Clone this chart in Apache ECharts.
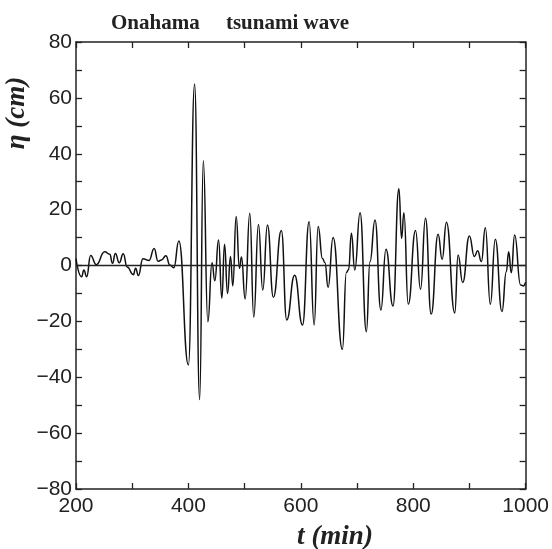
<!DOCTYPE html>
<html>
<head>
<meta charset="utf-8">
<script src="https://cdn.jsdelivr.net/npm/echarts@6/dist/echarts.min.js"></script>
<style>
  html, body { margin: 0; padding: 0; background: #fff; }
  #main { width: 552px; height: 549px; }
</style>
</head>
<body>
<div id="main"></div>
<script>
"use strict";
// time (min) of each turning point of the record
var times = [
    200, 210, 214, 219, 226, 236, 251, 260, 265, 270, 277, 284, 291, 302, 306, 311,
    319, 330, 339, 346, 352, 360, 367, 374, 383, 400, 411, 420, 426.5, 434.6, 442, 447,
    453.6, 459.5, 464.3, 469.6, 474.9, 479, 485, 490.8, 494.4, 500.9, 509.2, 516.3, 524.6, 532.3,
    540.6, 551.2, 565.4, 574.9, 589, 603, 614.8, 623.7, 630.8, 638.5, 643, 648.5, 657.4, 674,
    681, 685, 690, 696, 705.4, 716.7, 723, 732, 742.5, 751.5, 764, 774.5, 779.3, 783.4,
    791.1, 804.1, 813, 821.8, 831.9, 844.3, 851.4, 859.1, 873.9, 879.8, 888, 899.9, 908.8,
    914.7, 921.2, 928.3, 937.2, 946, 957.9, 965.6, 969.8, 974.5, 980.4, 991, 996, 1000
];
// surface elevation eta (cm) at those times
var eta = [
    2.5, -4, -1.6, -4, 3.6, 0.3, 4.9, 4.0, 0.8, 4.3, 1.0, 4.2, -0.5, -3.3, -1.0, -3.6,
    2.4, 1.8, 6.1, 1.5, 2.0, 3.5, 0.2, -0.8, 8.8, -35.6, 65, -48, 37.5, -20.1, 1.0, -5.5,
    9.1, -11.7, 7.6, -10, 3.2, -7.3, 17.5, -1.0, 3.0, -12.0, 18.7, -18.5, 14.7, -8.8,
    14.5, -11.4, 12.5, -19.5, -3.5, -21.3, 15.7, -21.3, 14, 2.5, 1.0, -7.8, 10, -30,
    -2.5, -1.5, 11.5, -1.6, 18.9, -23.7, 1.3, 16.3, -15.9, 5.8, -14.5, 27.5, 9.7, 18.9,
    -13.9, 12.5, -8.5, 16.9, -17.4, 11.2, 2.2, 15.5, -17, 3.8, -6.1, 10.6, 3.2,
    5.3, 1.4, 13.5, -13.9, 9.4, -16.5, -2.2, 4.9, -2.6, 10.9, -7, -7.3, -6
];
var xTicks = [200, 400, 600, 800, 1000];
var yTicks = [-80, -60, -40, -20, 0, 20, 40, 60, 80];

var chart = echarts.init(document.getElementById('main'));
var frame = { show: true, onZero: false, lineStyle: { color: '#222', width: 1.5 } };
var tick = { show: true, inside: true, length: 6, lineStyle: { color: '#222', width: 1.3 } };
var labelFont = { color: '#222', fontFamily: 'Liberation Sans', fontSize: 21 };

var points = [];
for (let i = 0; i < times.length; i++) {
    points.push([times[i], eta[i]]);
}

chart.setOption({
    animation: false,
    grid: { left: 76, right: 25, top: 42, bottom: 60 },
    title: {
        text: 'Onahama     tsunami wave',
        left: 106, top: 8,
        textStyle: { fontFamily: 'Liberation Serif', fontWeight: 'bold', fontSize: 21, color: '#222' }
    },
    xAxis: [
        {
            type: 'value', min: 200, max: 1000, interval: 100, position: 'bottom',
            axisLine: frame, axisTick: tick, splitLine: { show: false },
            axisLabel: Object.assign({
                margin: 7,
                formatter: function (v) { return xTicks.indexOf(v) >= 0 ? String(v) : ''; }
            }, labelFont)
        },
        {
            type: 'value', min: 200, max: 1000, interval: 100, position: 'top',
            axisLine: frame, axisTick: tick, splitLine: { show: false }, axisLabel: { show: false }
        }
    ],
    yAxis: [
        {
            type: 'value', min: -80, max: 80, interval: 10, position: 'left',
            axisLine: frame, axisTick: tick, splitLine: { show: false },
            axisLabel: Object.assign({
                margin: 4,
                formatter: function (v) {
                    if (yTicks.indexOf(v) < 0) return '';
                    return v < 0 ? '\u2212' + Math.abs(v) : String(v);
                }
            }, labelFont)
        },
        {
            type: 'value', min: -80, max: 80, interval: 10, position: 'right',
            axisLine: frame, axisTick: tick, splitLine: { show: false }, axisLabel: { show: false }
        }
    ],
    graphic: [
        {
            type: 'text', x: 17, y: 113, rotation: Math.PI / 2,
            style: {
                text: '\u03b7 (cm)', fill: '#222', align: 'center', verticalAlign: 'middle',
                font: 'italic bold 27px "Liberation Serif"'
            }
        },
        {
            type: 'text', x: 335, y: 537,
            style: {
                text: 't (min)', fill: '#222', align: 'center', verticalAlign: 'middle',
                font: 'italic bold 27px "Liberation Serif"'
            }
        }
    ],
    series: [
        {
            type: 'line',
            data: points,
            symbol: 'none',
            smooth: 0.5,
            smoothMonotone: 'x',
            lineStyle: { color: '#111', width: 1.5 },
            markLine: {
                silent: true,
                symbol: 'none',
                label: { show: false },
                lineStyle: { color: '#222', width: 1.3, type: 'solid' },
                data: [{ yAxis: 0 }]
            }
        }
    ]
});
</script>
</body>
</html>
